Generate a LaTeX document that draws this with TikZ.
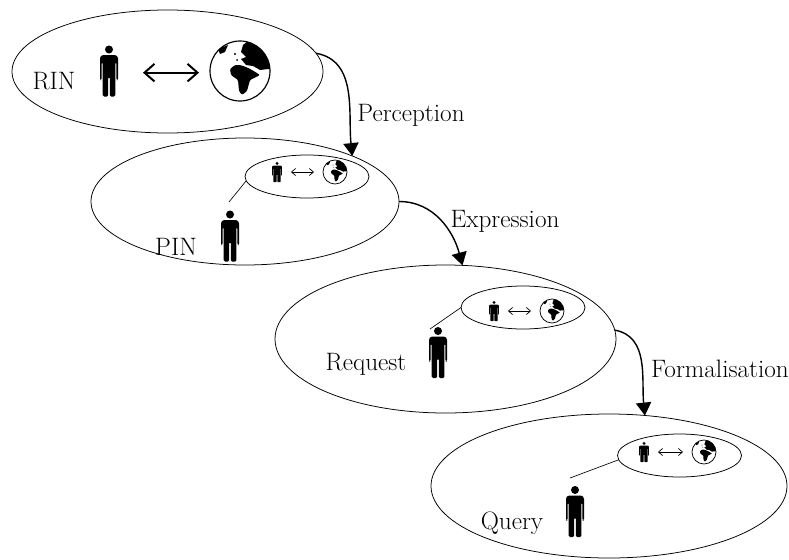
\documentclass[tikz,border=0pt]{standalone}
\usepackage{tikz}
\usetikzlibrary{shapes.geometric,arrows.meta}

\tikzset{
	oval/.style 2 args={ellipse,draw,line width=0.65pt,inner sep=0pt,outer sep=0pt,minimum width=#1*0.03cm,minimum height=#2*0.03cm},
	thought/.style={oval={124}{43}},
	label/.style={inner sep=0pt,font=\fontsize{21.5}{24}\selectfont},
	person/.style 2 args={inner sep=0pt,outer sep=0pt,minimum width=#1*0.54cm,minimum height=#2*1.53cm,
		path picture={
			\begin{scope}[shift={(path picture bounding box.center)},x=#1*0.03cm,y=-#2*0.03cm]
				\fill (0,-21.5) ellipse ({4*#2/#1} and 4);
				\fill[rounded corners=#2*1.2pt] (-7,-16) -- (7,-16) -- (9,-14) -- (9,9) -- (7.4,9) -- (7.4,-9) -- (6.4,-9) -- (6.4,25.5) -- (0.8,25.5) -- (0.8,6) -- (-0.8,6) -- (-0.8,25.5) -- (-6.4,25.5) -- (-6.4,-9) -- (-7.4,-9) -- (-7.4,9) -- (-9,9) -- (-9,-14) -- cycle;
			\end{scope}
		}},
	globe/.style={circle,draw,line width=#1*0.6pt+0.4pt,inner sep=0pt,outer sep=0pt,minimum size=#1*1.8cm,
		path picture={
			\begin{scope}[shift={(path picture bounding box.center)},x=#1*0.03cm,y=-#1*0.03cm]
				\fill (3,-26) -- (8,-30) -- (34,-30) -- (34,-2) -- (28,-2) -- (20,-1) -- (13,-5) -- (6,-6) -- (1,-12) -- (6,-14) -- (1,-19) -- cycle;
				\fill[rounded corners=#1*1pt] (-10,-2) -- (-5,-6) -- (0,-6) -- (6,-4) -- (12,-1) -- (20,4) -- (10,9) -- (7,20) -- (2,24) -- (-1,20) -- (-2,9) -- (-9,4) -- cycle;
				\fill (-22,-22) -- (-12,-26) -- (-15,-19) -- (-20,-17) -- cycle;
				\fill (-5,-17) circle (1.2);
				\fill (-3,-11) circle (1);
			\end{scope}
		}},
	bigarrow/.style={{Straight Barb[length=8.5pt,width=15pt,line width=1.7pt]}-{Straight Barb[length=8.5pt,width=15pt,line width=1.7pt]},line width=1.7pt},
	smallarrow/.style={{Straight Barb[length=3.5pt,width=6pt]}-{Straight Barb[length=3.5pt,width=6pt]},line width=0.6pt},
	flow/.style={line width=1.2pt,-{Triangle[length=11pt,width=13pt]}},
	pointer/.style={line width=0.55pt}
}

\begin{document}
\begin{tikzpicture}[x=0.03cm,y=-0.03cm]

	\useasboundingbox (0,0) rectangle (789,559);

	\node[oval={311}{123}] (rin) at (167.5,71.5) {};
	\node[label] (rinlabel) at (54,81) {RIN};
	\node[person={1}{1}] (rinperson) at (109,71) {};
	\node[globe=1] (ringlobe) at (240,71) {};
	\draw[bigarrow,shorten <=0.75cm,shorten >=0.33cm] ([yshift=-0.05cm]rinperson.east) -- ([yshift=-0.05cm]ringlobe.west);

	\node[oval={308}{127}] (pin) at (245,201.5) {};
	\node[thought] (pinthought) at (307,176.5) {};
	\node[label] (pinlabel) at (176,247) {PIN};
	\node[person={1}{1}] (pinperson) at (230,236) {};
	\node[person={0.55}{0.4}] (pinsmall) at (277,172) {};
	\node[globe=0.4] (pinglobe) at (335,172) {};
	\draw[smallarrow,shorten <=0.27cm,shorten >=0.27cm] (pinsmall) -- (pinglobe);
	\coordinate (pinend) at (229,202);
	\draw[pointer] (pinthought.184) -- (pinend);

	\node[oval={341}{148}] (request) at (445.5,339) {};
	\node[thought] (requestthought) at (523,307.5) {};
	\node[label] (requestlabel) at (366,364) {Request};
	\node[person={1}{1}] (requestperson) at (438,352.5) {};
	\node[person={0.55}{0.4}] (requestsmall) at (494,311) {};
	\node[globe=0.4] (requestglobe) at (552,311) {};
	\draw[smallarrow,shorten <=0.27cm,shorten >=0.27cm] (requestsmall) -- (requestglobe);
	\coordinate (requestend) at (430,329);
	\draw[pointer] (requestthought.west) -- (requestend);

	\node[oval={356}{144}] (query) at (609,486) {};
	\node[thought] (querythought) at (679.5,455.5) {};
	\node[label] (querylabel) at (512,523) {Query};
	\node[person={1}{1}] (queryperson) at (575,511.5) {};
	\node[person={0.55}{0.4}] (querysmall) at (644,452) {};
	\node[globe=0.4] (queryglobe) at (704,452) {};
	\draw[smallarrow,shorten <=0.27cm,shorten >=0.27cm] (querysmall) -- (queryglobe);
	\coordinate (queryend) at (570,478);
	\draw[pointer] (querythought.184) -- (queryend);

	\draw[flow] (rin.7) to[out=-10,in=96] (pin.23);
	\draw[flow] (pin.0) to[out=0,in=105] (request.77);
	\draw[flow] (request.3) to[out=-10,in=96] (query.63);

	\node[label] (perception) at (411,115) {Perception};
	\node[label] (expression) at (505,221) {Expression};
	\node[label] (formalisation) at (720,369) {Formalisation};

\end{tikzpicture}
\end{document}
